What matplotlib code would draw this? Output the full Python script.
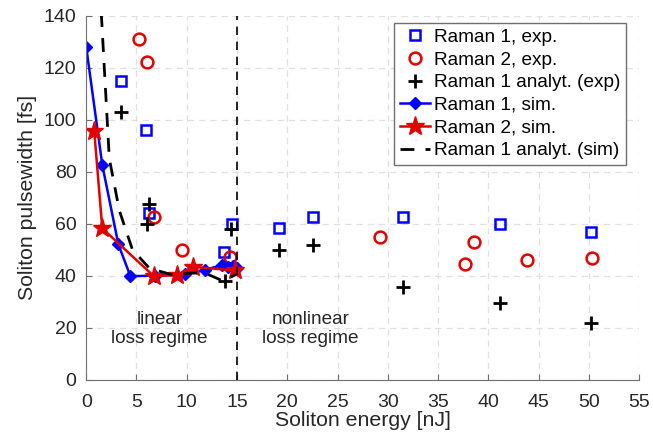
import matplotlib.pyplot as plt

plt.rcParams['font.family'] = ['Liberation Sans', 'DejaVu Sans']

# Raman 1, experiment
r1_exp_x = [3.5, 5.9, 6.2, 13.7, 14.5, 19.2, 22.6, 31.5, 41.1, 50.2]
r1_exp_y = [115, 96, 64, 49, 60, 58.5, 62.5, 62.7, 59.8, 56.8]

# Raman 2, experiment
r2_exp_x = [5.3, 6.0, 6.7, 9.5, 14.3, 29.2, 37.7, 38.6, 43.8, 50.3]
r2_exp_y = [131, 122, 62.7, 50, 47, 55, 44.6, 52.8, 46.2, 46.8]

# Raman 1 analytical from experiment
r1_an_exp_x = [3.5, 6.0, 6.2, 13.8, 14.4, 19.2, 22.6, 31.5, 41.1, 50.2]
r1_an_exp_y = [103, 60, 67.5, 38, 58, 50, 51.8, 35.8, 29.4, 21.7]

# Raman 1, simulation
r1_sim_x = [0, 1.6, 3.2, 4.4, 6.8, 9.8, 11.8, 13.5, 14.1, 14.6, 15.0]
r1_sim_y = [128, 82.6, 52, 39.8, 40, 40.5, 42.2, 44.1, 43.5, 43.8, 43]

# Raman 2, simulation
r2_sim_x = [0.8, 1.6, 6.7, 9.0, 10.6, 14.8]
r2_sim_y = [95.6, 58.2, 39.9, 40.2, 43.4, 42]

# Raman 1 analytical from simulation
r1_an_sim_x = [1.5, 2.3, 3.3, 4.6, 6.3, 8.7, 10.3, 11.8, 13.6, 14.9]
r1_an_sim_y = [141, 85, 65, 50, 42.8, 40.2, 41, 41, 38, 40.5]

blue = '#0000ff'
red = '#e00000'
text_col = '#262626'

fig = plt.figure(figsize=(6.53, 4.42), dpi=100)
ax = fig.add_axes([0.132, 0.141, 0.847, 0.8235])

ax.plot(r1_exp_x, r1_exp_y, 's', ls='none', mfc='none', mec=blue, ms=7, mew=1.8,
        label='Raman 1, exp.')
ax.plot(r2_exp_x, r2_exp_y, 'o', ls='none', mfc='none', mec=red, ms=8.5, mew=1.8,
        label='Raman 2, exp.')
ax.plot(r1_an_exp_x, r1_an_exp_y, '+', ls='none', color='black', ms=10, mew=2,
        label='Raman 1 analyt. (exp)')
ax.plot(r1_sim_x, r1_sim_y, '-D', color=blue, lw=1.8, ms=6, label='Raman 1, sim.')
ax.plot(r2_sim_x, r2_sim_y, '-*', color=red, lw=1.8, ms=14, label='Raman 2, sim.')
ax.plot(r1_an_sim_x, r1_an_sim_y, '--', color='black', lw=2, dashes=(5, 4),
        label='Raman 1 analyt. (sim)')

ax.axvline(15, color='black', ls='--', lw=1.2, dashes=(5, 4))

ax.text(7.3, 19.5, 'linear\nloss regime', ha='center', va='center',
        fontsize=13.7, linespacing=1.1, color=text_col)
ax.text(22.3, 19.5, 'nonlinear\nloss regime', ha='center', va='center',
        fontsize=13.7, linespacing=1.1, color=text_col)

ax.set_xlim(0, 55)
ax.set_ylim(0, 140)
ax.set_xticks(range(0, 56, 5))
ax.set_yticks(range(0, 141, 20))
ax.grid(True, ls=(0, (5, 4)), color='#e0e0e0', lw=0.9)
ax.set_axisbelow(True)
for s in ['top', 'right']:
    ax.spines[s].set_visible(False)
for s in ['left', 'bottom']:
    ax.spines[s].set_color('#707070')
ax.tick_params(direction='in', length=4, color='#707070', labelsize=14,
               labelcolor=text_col)
ax.tick_params(axis='x', pad=10)
ax.tick_params(axis='y', pad=7)
ax.set_xlabel('Soliton energy [nJ]', fontsize=15.3, color=text_col, labelpad=0)
ax.set_ylabel('Soliton pulsewidth [fs]', fontsize=15.3, color=text_col, labelpad=5)

leg = ax.legend(loc='upper right', bbox_to_anchor=(0.976, 0.98), fontsize=13.7,
                frameon=True, fancybox=False, framealpha=1, edgecolor='#707070',
                borderpad=0.3, labelspacing=0.28, handlelength=1.6,
                handletextpad=0.2, borderaxespad=0)
leg.get_frame().set_linewidth(1.0)
for t in leg.get_texts():
    t.set_color('black')

fig.savefig('out.png', dpi=100)
